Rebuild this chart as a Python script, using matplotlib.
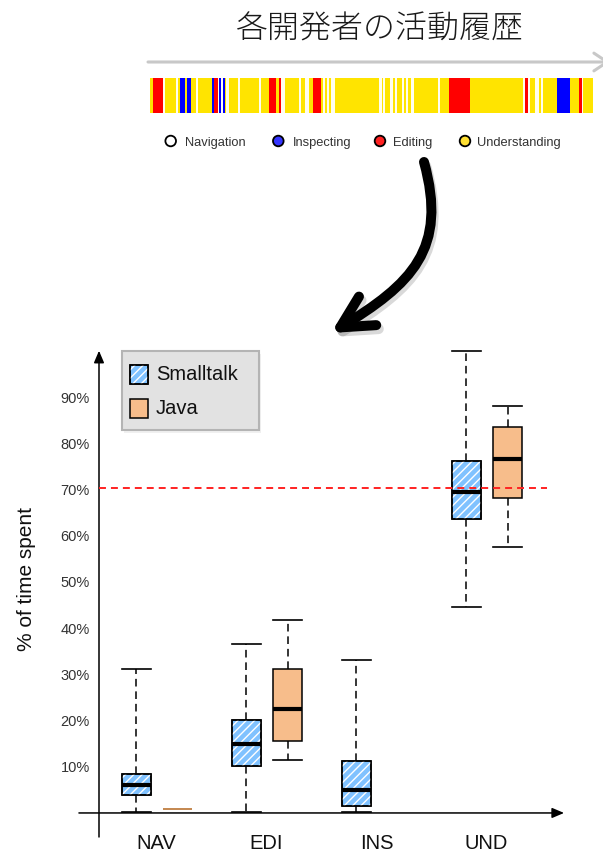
import matplotlib
matplotlib.use('Agg')
import matplotlib.pyplot as plt
import numpy as np
from matplotlib.patches import Rectangle, FancyArrowPatch, PathPatch, Circle
from matplotlib.path import Path

plt.rcParams['font.family'] = ['Liberation Sans', 'DejaVu Sans']
plt.rcParams['lines.scale_dashes'] = False
plt.rcParams['hatch.linewidth'] = 1.0

# ---------------- data ----------------
title = '各開発者の活動履歴'
categories = ['NAV', 'EDI', 'INS', 'UND']
series_names = ['Smalltalk', 'Java']

st_whislo = [0.0, 0.0, 0.0, 44.3]
st_q1 = [3.6, 10.0, 1.4, 63.3]
st_med = [5.9, 14.8, 4.8, 69.2]
st_q3 = [8.3, 19.9, 11.1, 76.0]
st_whishi = [30.9, 36.4, 32.8, 99.7]

java_whislo = [0.6, 11.2, None, 57.3]
java_q1 = [0.6, 15.3, None, 68.0]
java_med = [0.6, 22.2, None, 76.3]
java_q3 = [0.6, 30.9, None, 83.4]
java_whishi = [0.6, 41.5, None, 87.8]

threshold = 70
ytick_values = [10, 20, 30, 40, 50, 60, 70, 80, 90]
ytick_labels = [f'{v}%' for v in ytick_values]
ylabel = '% of time spent'

activity_names = ['Navigation', 'Inspecting', 'Editing', 'Understanding']
# activity history: N=Navigation, I=Inspecting, E=Editing, U=Understanding
activity_seq = ['U', 'E', 'N', 'U', 'N', 'U', 'I', 'U', 'I', 'U',
                'N', 'U', 'I', 'E', 'N', 'I', 'N', 'I', 'U', 'N',
                'U', 'N', 'U', 'N', 'U', 'E', 'U', 'E', 'N', 'U',
                'N', 'U', 'N', 'U', 'E', 'U', 'N', 'U', 'N', 'U',
                'N', 'U', 'N', 'U', 'N', 'U', 'N', 'U', 'N', 'U',
                'N', 'U', 'N', 'U', 'N', 'U', 'N', 'U', 'E', 'U',
                'N', 'E', 'N', 'U', 'N', 'U', 'N', 'U', 'I', 'U',
                'E', 'N', 'U']
activity_dur = [2.7, 10.6, 1.4, 11.3, 1.7, 2.3, 5.3, 1.7, 3.7, 5.3,
                2.0, 14.0, 2.3, 3.7, 1.3, 1.7, 2.3, 1.4, 1.3, 2.7,
                9.0, 2.3, 19.3, 1.7, 8.3, 6.7, 2.7, 2.0, 4.0, 14.0,
                2.3, 4.3, 3.4, 4.6, 7.7, 1.7, 2.0, 2.0, 2.0, 2.0,
                4.6, 43.4, 3.3, 1.3, 2.0, 4.7, 2.7, 2.6, 1.7, 5.0,
                2.3, 1.7, 2.0, 3.0, 3.3, 23.4, 2.6, 8.4, 21.3, 52.7,
                2.3, 3.3, 1.7, 5.3, 3.4, 2.0, 2.0, 14.0, 13.3, 9.3,
                2.7, 1.3, 9.4]

# ---------------- style ----------------
act_colors = {'N': '#fffdf0', 'I': '#0000ff', 'E': '#ff0000', 'U': '#ffe400'}
dot_colors = ['#ffffff', '#3535ff', '#ff2222', '#ffe033']
blue = '#80c2ff'
orange = '#f7bd8b'
W, H = 603, 853

fig = plt.figure(figsize=(W / 100, H / 100), dpi=100)

def fx(x):
    return x / W

def fy(y):
    return 1 - y / H

# ---------------- box plot axes ----------------
x_left, x_right = 0.4773, 4.8
y_bot, y_top = -3.0, 100.5
ax = fig.add_axes([fx(99), fy(826.9), (574.5 - 99) / W, (826.9 - 348.5) / H])
ax.set_xlim(x_left, x_right)
ax.set_ylim(y_bot, y_top)
for s in ax.spines.values():
    s.set_visible(False)
ax.set_yticks(ytick_values)
ax.set_yticklabels(ytick_labels, fontsize=10.5, color='#333333')
ax.set_xticks(np.arange(1, len(categories) + 1))
ax.set_xticklabels(categories, fontsize=14.5, color='#111111')
ax.tick_params(axis='y', length=0, pad=6.5)
ax.tick_params(axis='x', length=0, pad=5)

# axis lines with arrows
ax.annotate('', xy=(x_left, 99.8), xytext=(x_left, -5.4), annotation_clip=False,
            arrowprops=dict(arrowstyle='-|>,head_length=0.4,head_width=0.17', color='black',
                            lw=1.1, mutation_scale=18, shrinkA=0, shrinkB=0))
ax.annotate('', xy=(4.705, -0.2), xytext=(0.295, -0.2), annotation_clip=False,
            arrowprops=dict(arrowstyle='-|>,head_length=0.4,head_width=0.17', color='black',
                            lw=1.1, mutation_scale=18, shrinkA=0, shrinkB=0))

common = dict(widths=0.264, capwidths=0.264, patch_artist=True, showfliers=False,
              manage_ticks=False,
              whiskerprops=dict(color='black', linewidth=1.1, linestyle=(0, (5.5, 3.5))),
              capprops=dict(color='black', linewidth=1.2),
              medianprops=dict(color='black', linewidth=3.0, solid_capstyle='butt'))

st_stats = [dict(med=m, q1=a, q3=b, whislo=lo, whishi=hi, fliers=[])
            for lo, a, m, b, hi in zip(st_whislo, st_q1, st_med, st_q3, st_whishi)]
st_pos = np.arange(1, len(categories) + 1) - 0.182
bp1 = ax.bxp(st_stats, positions=st_pos,
             boxprops=dict(facecolor=blue, edgecolor='black', linewidth=1.1), **common)
for p in bp1['boxes']:
    ax.add_patch(PathPatch(p.get_path(), transform=p.get_transform(), facecolor='none',
                           edgecolor='white', hatch='////', lw=0, zorder=2.03))
    ax.add_patch(PathPatch(p.get_path(), transform=p.get_transform(), facecolor='none',
                           edgecolor='black', lw=1.1, zorder=2.06))

j_idx = [i for i in range(len(categories)) if java_med[i] is not None]
j_stats = [dict(med=java_med[i], q1=java_q1[i], q3=java_q3[i], whislo=java_whislo[i],
                whishi=java_whishi[i], fliers=[]) for i in j_idx]
j_pos = np.array(j_idx) + 1 + 0.191
bp2 = ax.bxp(j_stats, positions=j_pos,
             boxprops=dict(facecolor=orange, edgecolor='black', linewidth=1.1), **common)
# degenerate (flat) boxes are drawn as a thin brown line
for k, i in enumerate(j_idx):
    if java_q1[i] == java_q3[i]:
        brown = '#c4874f'
        bp2['boxes'][k].set_edgecolor(brown)
        bp2['boxes'][k].set_linewidth(1.2)
        bp2['medians'][k].set_color(brown)
        bp2['medians'][k].set_linewidth(1.2)
        for art in bp2['caps'][2 * k:2 * k + 2] + bp2['whiskers'][2 * k:2 * k + 2]:
            art.set_visible(False)

ax.hlines(threshold, x_left, 4.55, colors='#ff2222', linestyles=(0, (5.0, 3.6)), lw=1.4, zorder=3)

# y label
fig.text(fx(26), fy(579), ylabel, rotation=90, ha='center', va='center', fontsize=15, color='#111111')

# ---------------- activity strip ----------------
sa = fig.add_axes([fx(150), fy(114), (592.7 - 150) / W, 35 / H])
lefts = np.concatenate([[0], np.cumsum(activity_dur)[:-1]])
sa.barh(0, activity_dur, left=lefts, height=1, color=[act_colors[c] for c in activity_seq], linewidth=0)
sa.set_xlim(0, float(np.sum(activity_dur)))
sa.set_ylim(-0.5, 0.5)
sa.axis('off')

# ---------------- overlay (decoration) ----------------
ov = fig.add_axes([0, 0, 1, 1])
ov.set_xlim(0, W)
ov.set_ylim(H, 0)
ov.axis('off')

ov.text(380, 29, title, ha='center', va='center', fontsize=23, color='#1a1a1a', fontweight='light',
        family=['Noto Sans CJK JP', 'DejaVu Sans'])

ov.annotate('', xy=(610, 63), xytext=(148, 63), annotation_clip=False,
            arrowprops=dict(arrowstyle='->,head_length=0.6,head_width=0.4', color='#c8c8c8',
                            lw=2.2, mutation_scale=16, shrinkA=0, shrinkB=0))

dot_x = [170.7, 278.3, 380.0, 465.0]
txt_x = [185.0, 292.7, 393.3, 476.7]
for name, c, cx, tx in zip(activity_names, dot_colors, dot_x, txt_x):
    ov.add_patch(Circle((cx, 142), 5.3, facecolor=c, edgecolor='black', lw=1.3))
    ov.text(tx, 142.5, name, ha='left', va='center', fontsize=9.3, color='#333333')

# curved arrow
verts = [(424, 163), (448, 250), (412, 285), (331, 334)]
codes = [Path.MOVETO, Path.CURVE4, Path.CURVE4, Path.CURVE4]
shadow = FancyArrowPatch(path=Path([(x + 2, y + 4) for x, y in verts], codes),
                         arrowstyle='->,head_length=23,head_width=12', lw=7.5, color='#000000',
                         alpha=0.15, capstyle='round', joinstyle='round')
ov.add_patch(shadow)
arr = FancyArrowPatch(path=Path(verts, codes), arrowstyle='->,head_length=23,head_width=12',
                      lw=7.2, color='black', capstyle='round', joinstyle='round')
ov.add_patch(arr)

# legend box
ov.add_patch(Rectangle((124, 355), 137, 79, facecolor='#000000', alpha=0.06, lw=0))
ov.add_patch(Rectangle((122, 352), 137, 79, facecolor='#e2e2e2', edgecolor='#b4b4b4', lw=1.5))
ov.add_patch(Rectangle((130, 366), 18, 19, facecolor=blue, edgecolor='black', lw=1.1))
ov.add_patch(Rectangle((130, 366), 18, 19, facecolor='none', edgecolor='white', hatch='////', lw=0))
ov.add_patch(Rectangle((130, 366), 18, 19, facecolor='none', edgecolor='black', lw=1.1))
ov.add_patch(Rectangle((130, 400), 18, 19, facecolor=orange, edgecolor='black', lw=1.1))
ov.text(156, 374, series_names[0], ha='left', va='center', fontsize=14.5, color='#111111')
ov.text(156, 409, series_names[1], ha='left', va='center', fontsize=14.5, color='#111111')

fig.savefig('out.png', dpi=100)
